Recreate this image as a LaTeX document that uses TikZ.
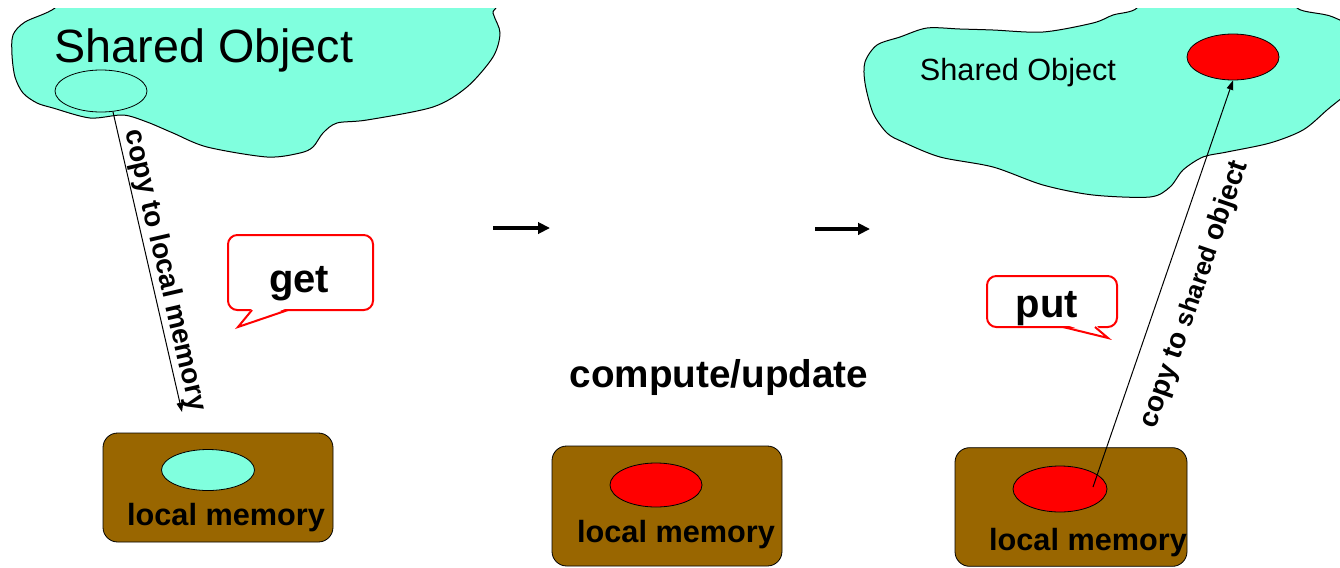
\documentclass[tikz,border=0pt]{standalone}
\usepackage{fontspec}
\setmainfont{Liberation Sans}
\usetikzlibrary{shapes.geometric, arrows.meta, positioning}
\definecolor{ObjCyan}{RGB}{128,255,222}
\definecolor{MemBrown}{RGB}{153,102,0}
\definecolor{ObjRed}{RGB}{255,0,0}
\tikzset{
  cloudshape/.style={draw=black, line width=0.75pt, fill=ObjCyan},
  objblob/.style={ellipse, draw=black, line width=0.6pt, inner sep=0pt},
  membox/.style={draw=black, line width=0.6pt, fill=MemBrown, rounded corners=11pt, minimum width=172.5pt, inner sep=0pt},
  memlabel/.style={anchor=base, inner sep=0pt, font=\fontsize{23}{27}\selectfont\bfseries},
  bubble/.style={draw=red, line width=1.5pt, rounded corners=7pt, inner sep=0pt},
  bubbletext/.style={anchor=base, inner sep=0pt, font=\fontsize{30}{34}\selectfont\bfseries},
  copyarrow/.style={-{Triangle[length=7pt, width=5pt]}, line width=0.75pt},
  steparrow/.style={-{Triangle[length=9pt, width=8.5pt]}, line width=2.4pt},
}

\begin{document}
\begin{tikzpicture}[x=0.75pt, y=-0.75pt]
    \useasboundingbox[fill=white] (0,0) rectangle (1340,568);

    % the shared object, before and after
    \begin{scope}
      \clip (0,8) rectangle (1340,568);
      \draw[cloudshape] plot[smooth cycle, tension=0.5] coordinates {(80,-20) (55,8) (25,22) (13,35) (12,55) (15,77) (23,93) (37,103) (53,108) (90,118) (123,115) (147,122) (173,133) (207,147) (267,157) (300,153) (313,147) (323,133) (337,123) (367,120) (433,107) (467,87) (493,57) (500,33) (493,13) (485,-20)};
      \draw[cloudshape] plot[smooth cycle, tension=0.5] coordinates {(1150,-20) (1137,8) (1113,15) (1093,23) (1043,32) (993,30) (960,29) (927,28) (900,37) (877,45) (865,62) (865,83) (873,113) (887,133) (903,142) (940,157) (993,167) (1043,185) (1093,195) (1150,197) (1170,187) (1183,170) (1203,157) (1227,152) (1270,143) (1303,130) (1327,110) (1360,80) (1370,40) (1333,17) (1297,8) (1290,-20)};
    \end{scope}
    \node[anchor=base, inner sep=0pt, font=\fontsize{35}{40}\selectfont] (sharedtitle) at (204,62) {Shared Object};
    \node[objblob, minimum width=69pt, minimum height=31.5pt] (sharedold) at (101,91) {};
    \node[anchor=base, inner sep=0pt, font=\fontsize{23}{27}\selectfont] (sharedtitlenew) at (1018,80) {Shared Object};
    \node[objblob, fill=ObjRed, minimum width=69pt, minimum height=34.5pt] (sharednew) at (1233,57) {};

    % local memories
    \node[membox, minimum height=81.75pt] (lmemget) at (218,487.5) {};
    \node[objblob, fill=ObjCyan, minimum width=69.75pt, minimum height=30.75pt] (copyget) at (208,470) {};
    \node[memlabel] (lmemgettext) at (226,525) {local memory};

    \node[membox, minimum height=90pt] (lmemcompute) at (667,506) {};
    \node[objblob, fill=ObjRed, minimum width=69pt, minimum height=33pt] (copycompute) at (656,485) {};
    \node[memlabel] (lmemcomputetext) at (676,542) {local memory};

    \node[membox, minimum width=174pt, minimum height=89pt] (lmemput) at (1071,507) {};
    \node[objblob, fill=ObjRed, minimum width=70.5pt, minimum height=34.5pt] (copyput) at (1060,489) {};
    \node[memlabel] (lmemputtext) at (1088,550) {local memory};

    \node[anchor=base, inner sep=0pt, font=\fontsize{29}{34}\selectfont\bfseries] (compute) at (719,387) {compute/update};

    % speech bubbles
    \node[bubble, minimum width=108.75pt, minimum height=56.25pt] (getbubble) at (300.5,272.5) {};
    \fill[white] (253,307) -- (238,327) -- (290,307) -- cycle;
    \draw[red, line width=1.5pt] (252,310) -- (238,327) -- (288,310);
    \node[bubbletext] (gettext) at (299,292) {get};

    \node[bubble, minimum width=97.5pt, minimum height=38.25pt] (putbubble) at (1052,301.5) {};
    \fill[white] (1063,324) -- (1108,338) -- (1095,324) -- cycle;
    \draw[red, line width=1.5pt] (1063,327) -- (1108,338) -- (1095,327);
    \node[bubbletext] (puttext) at (1047,317) {put};

    % copies
    \coordinate (getend) at (182,412);
    \draw[copyarrow] (sharedold.-60) -- node[sloped, above, pos=0.54, inner sep=1pt, font=\fontsize{21}{25}\selectfont\bfseries] {copy to local memory} (getend);
    \coordinate (putstart) at (1093,487);
    \draw[copyarrow] (putstart) -- node[sloped, below=15pt, pos=0.5, inner sep=0pt, font=\fontsize{21}{25}\selectfont\bfseries] {copy to {\fontsize{19}{22}\selectfont shared} object} (sharednew.south);

    \coordinate (stepa) at (493,228);
    \coordinate (stepb) at (550,228);
    \draw[steparrow] (stepa) -- (stepb);
    \coordinate (stepc) at (815,229);
    \coordinate (stepd) at (870,229);
    \draw[steparrow] (stepc) -- (stepd);
\end{tikzpicture}
\end{document}
